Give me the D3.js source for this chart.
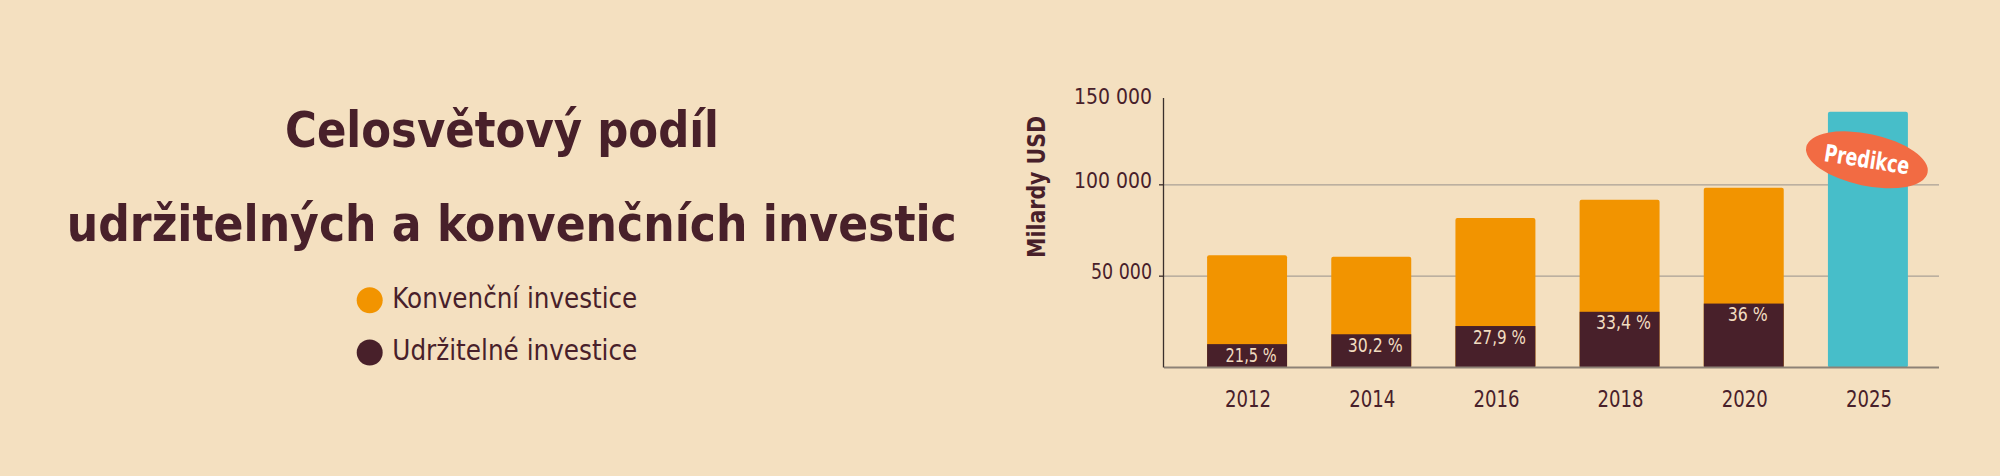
<!DOCTYPE html>
<html><head><meta charset="utf-8">
<script src="https://cdn.jsdelivr.net/npm/d3@7"></script>
<style>
html,body{margin:0;padding:0;background:#f4e0c0;}
svg{display:block;}
</style></head>
<body>
<svg id="c" width="2000" height="476"></svg>
<script>
// ---- data ----
const years = ["2012", "2014", "2016", "2018", "2020", "2025"];
const sustainable = [12800, 18200, 22700, 30500, 35000, null];
const conventional = [48700, 42400, 59100, 61300, 63400, null];
const predicted = [null, null, null, null, null, 140000];
const shareLabels = ["21,5 %", "30,2 %", "27,9 %", "33,4 %", "36 %", null];
const yTickValues = [50000, 100000, 150000];
const yTickLabels = ["50 000", "100 000", "150 000"];
const titleLines = ["Celosvětový podíl", "udržitelných a konvenčních investic"];
const legendLabels = ["Konvenční investice", "Udržitelné investice"];
const yTitle = "Milardy USD";
const predictionLabel = "Predikce";

// ---- style ----
const BG = "#f4e0c0", ORANGE = "#f29400", DARK = "#48202a", TEAL = "#47bec9", CORAL = "#f26b43";
const narrow = "'Liberation Sans Narrow','DejaVu Sans Condensed','Roboto',sans-serif";
const boldF = "'Liberation Sans Narrow','DejaVu Sans Condensed','Roboto',sans-serif";

const svg = d3.select("#c");
svg.append("rect").attr("width", 2000).attr("height", 476).attr("fill", BG);

const x = d3.scaleBand().domain(years).range([1185, 1930]).paddingInner(0.356).paddingOuter(0.178);
const y = d3.scaleLinear().domain([0, 150000]).range([367.5, 93.5]);

function fit(sel, w) {
  sel.attr("textLength", w).attr("lengthAdjust", "spacingAndGlyphs");
}

// title
const tl = svg.append("g");
[[502, 146.7, 434], [511.8, 240.7, 890]].forEach((p, i) => {
  tl.append("text").attr("x", p[0]).attr("y", p[1]).attr("text-anchor", "middle")
    .attr("font-family", boldF).attr("font-weight", 700).attr("font-size", 49)
    .attr("fill", DARK).text(titleLines[i]).call(fit, p[2]);
});

// legend
const leg = svg.append("g");
[[ORANGE, 300.3, 307.7], [DARK, 352.5, 360]].forEach((p, i) => {
  leg.append("circle").attr("cx", 369.7).attr("cy", p[1]).attr("r", 13).attr("fill", p[0]);
  leg.append("text").attr("x", 392.3).attr("y", p[2]).attr("font-family", narrow)
    .attr("font-size", 27.5).attr("fill", DARK).text(legendLabels[i]).call(fit, 245);
});

// gridlines
const gridVals = yTickValues.filter(v => v < 150000);
svg.append("g").selectAll("line").data(gridVals).join("line")
  .attr("x1", 1164).attr("x2", 1939).attr("y1", d => y(d)).attr("y2", d => y(d))
  .attr("stroke", "#aaa196").attr("stroke-width", 1.3);

// y tick labels
const yLabW = { 50000: 61, 100000: 78, 150000: 78 };
svg.append("g").selectAll("text").data(yTickValues).join("text")
  .attr("x", 1152).attr("y", d => y(d) + (d === 150000 ? 10.5 : 3.3))
  .attr("text-anchor", "end").attr("font-family", narrow).attr("font-size", 22)
  .attr("fill", DARK).text((d, i) => yTickLabels[i])
  .each(function (d) { d3.select(this).call(fit, yLabW[d]); });
// small ticks
svg.append("g").selectAll("line").data(gridVals).join("line")
  .attr("x1", 1159).attr("x2", 1164).attr("y1", d => y(d)).attr("y2", d => y(d))
  .attr("stroke", "#3a2a28").attr("stroke-width", 1.3);

// y title
svg.append("text").attr("transform", "translate(1045,187) rotate(-90)")
  .attr("text-anchor", "middle").attr("font-family", "'DejaVu Sans','Noto Sans',sans-serif")
  .attr("font-weight", 700).attr("font-size", 24).attr("fill", DARK)
  .text(yTitle).call(fit, 142);

// bars
const idx = d3.range(years.length);
const bars = svg.append("g");
bars.selectAll("rect.conv").data(idx.filter(i => conventional[i] != null)).join("rect")
  .attr("class", "conv").attr("x", i => x(years[i])).attr("width", x.bandwidth())
  .attr("y", i => y(sustainable[i] + conventional[i]))
  .attr("height", i => y(0) - y(sustainable[i] + conventional[i]))
  .attr("rx", 2).attr("fill", ORANGE);
bars.selectAll("rect.sus").data(idx.filter(i => sustainable[i] != null)).join("rect")
  .attr("class", "sus").attr("x", i => x(years[i])).attr("width", x.bandwidth())
  .attr("y", i => y(sustainable[i])).attr("height", i => y(0) - y(sustainable[i]))
  .attr("fill", DARK);
bars.selectAll("rect.pred").data(idx.filter(i => predicted[i] != null)).join("rect")
  .attr("class", "pred").attr("x", i => x(years[i])).attr("width", x.bandwidth())
  .attr("y", i => y(predicted[i])).attr("height", i => y(0) - y(predicted[i]))
  .attr("rx", 2).attr("fill", TEAL);

// share labels
const shareW = [51, 55, 53, 55, 40];
bars.selectAll("text.share").data(idx.filter(i => shareLabels[i] != null)).join("text")
  .attr("class", "share").attr("x", i => x(years[i]) + x.bandwidth() / 2 + 4)
  .attr("y", i => y(sustainable[i]) + 17.5).attr("text-anchor", "middle")
  .attr("font-family", narrow).attr("font-size", 20).attr("fill", "#f1dcc0")
  .text(i => shareLabels[i])
  .each(function (i) { d3.select(this).call(fit, shareW[i]); });

// axes lines
svg.append("line").attr("x1", 1164).attr("x2", 1939).attr("y1", y(0)).attr("y2", y(0))
  .attr("stroke", "#8d8276").attr("stroke-width", 2);
svg.append("line").attr("x1", 1163.5).attr("x2", 1163.5).attr("y1", y(147500)).attr("y2", y(0))
  .attr("stroke", "#3a2f2c").attr("stroke-width", 1.3);

// x labels
svg.append("g").selectAll("text").data(years).join("text")
  .attr("x", d => x(d) + x.bandwidth() / 2 + 1).attr("y", 406.5)
  .attr("text-anchor", "middle").attr("font-family", narrow).attr("font-size", 23.5)
  .attr("fill", DARK).text(d => d).call(fit, 46);

// prediction badge
const pi = years.length - 1;
const bx = x(years[pi]) + x.bandwidth() / 2 - 1, by = y(113700);
const badge = svg.append("g").attr("transform", `translate(${bx},${by})`);
badge.append("ellipse").attr("rx", 62).attr("ry", 26).attr("transform", "rotate(12)").attr("fill", CORAL);
badge.append("text").attr("transform", "rotate(9)").attr("y", 8).attr("text-anchor", "middle")
  .attr("font-family", "'DejaVu Sans Condensed','Liberation Sans Narrow',sans-serif")
  .attr("font-weight", 700).attr("font-size", 24).attr("fill", "#fff")
  .text(predictionLabel).call(fit, 86);
</script>
</body></html>
